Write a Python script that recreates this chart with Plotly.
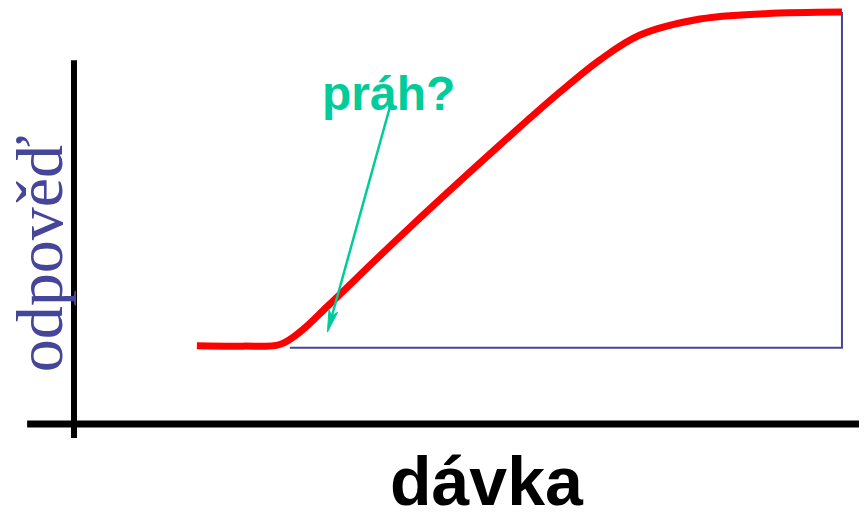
import math
import plotly.graph_objects as go

# dose-response curve (dose 0..100, response 0..100)
dose = [16.0, 22.0, 26.8, 29.4, 33.3, 42.4, 55.5, 63.3, 68.5, 73.7, 81.5, 90.0, 100.0]
response = [19.0, 18.9, 19.3, 22.3, 29.1, 45.4, 67.8, 80.6, 88.4, 94.4, 98.3, 99.6, 100.0]

baseline_start = 28.1
baseline_level = 18.5
threshold_tip = (33.0, 22.3)
threshold_tail = (41.1, 76.7)

x_label = "dávka"
y_label = "odpověď"
threshold_label = "práh?"

GREEN = "#00CC99"
BLUE = "#45459A"

X_RANGE = [-8.594, 103.26]
Y_RANGE = [-21.60, 100.97]
W, H = 859, 505
sx = W / (X_RANGE[1] - X_RANGE[0])   # px per dose unit
sy = H / (Y_RANGE[1] - Y_RANGE[0])   # px per response unit

fig = go.Figure()

# black axes
fig.add_trace(go.Scatter(x=[0, 0], y=[88.3, -3.4], mode="lines",
                         line=dict(color="black", width=6), hoverinfo="skip"))
fig.add_trace(go.Scatter(x=[-6.1, 106], y=[0, 0], mode="lines",
                         line=dict(color="black", width=7), hoverinfo="skip"))

# blue reference lines
fig.add_trace(go.Scatter(x=[baseline_start, dose[-1], dose[-1]],
                         y=[baseline_level, baseline_level, response[-1]],
                         mode="lines", line=dict(color=BLUE, width=2), hoverinfo="skip"))

# red curve
fig.add_trace(go.Scatter(x=dose, y=response, mode="lines",
                         line=dict(color="#FF0000", width=7, shape="spline", smoothing=1.0),
                         hoverinfo="skip", cliponaxis=False))

# green arrow (shaft + narrow head derived from tip/tail)
tx, ty = threshold_tip
ax_, ay_ = threshold_tail
dxp, dyp = (tx - ax_) * sx, (ty - ay_) * sy
n = math.hypot(dxp, dyp)
ux, uy = dxp / n, dyp / n
px_, py_ = -uy, ux
L, hw = 22, 4.5
def to_data(ox, oy):
    return tx + ox / sx, ty + oy / sy
b1 = to_data(-L * ux + hw * px_, -L * uy + hw * py_)
b2 = to_data(-L * ux - hw * px_, -L * uy - hw * py_)
nt = to_data(-0.75 * L * ux, -0.75 * L * uy)
fig.add_trace(go.Scatter(x=[ax_, nt[0]], y=[ay_, nt[1]], mode="lines",
                         line=dict(color=GREEN, width=2.5), hoverinfo="skip"))
fig.add_trace(go.Scatter(x=[tx, b1[0], nt[0], b2[0], tx], y=[ty, b1[1], nt[1], b2[1], ty],
                         mode="lines", fill="toself", fillcolor=GREEN,
                         line=dict(color=GREEN, width=1), hoverinfo="skip"))

fig.add_annotation(x=40.9, y=80.1, xref="x", yref="y", text="<b>" + threshold_label + "</b>", showarrow=False,
                   font=dict(family="Liberation Sans, Arial", size=48, color=GREEN),
                   xanchor="center", yanchor="middle")
fig.add_annotation(x=53.8, y=-13.8, xref="x", yref="y", text="<b>" + x_label + "</b>", showarrow=False,
                   font=dict(family="Liberation Sans, Arial", size=68, color="black"),
                   xanchor="center", yanchor="middle")
fig.add_annotation(x=-4.5, y=41.3, xref="x", yref="y", text=y_label, showarrow=False, textangle=-90,
                   font=dict(family="Liberation Serif, Times New Roman", size=66, color=BLUE),
                   xanchor="center", yanchor="middle")

fig.update_layout(
    width=W, height=H,
    margin=dict(l=0, r=0, t=0, b=0),
    paper_bgcolor="white", plot_bgcolor="white",
    showlegend=False,
    template=None,
    xaxis=dict(range=X_RANGE, visible=False, fixedrange=True),
    yaxis=dict(range=Y_RANGE, visible=False, fixedrange=True),
)
fig.write_html("out.html")
